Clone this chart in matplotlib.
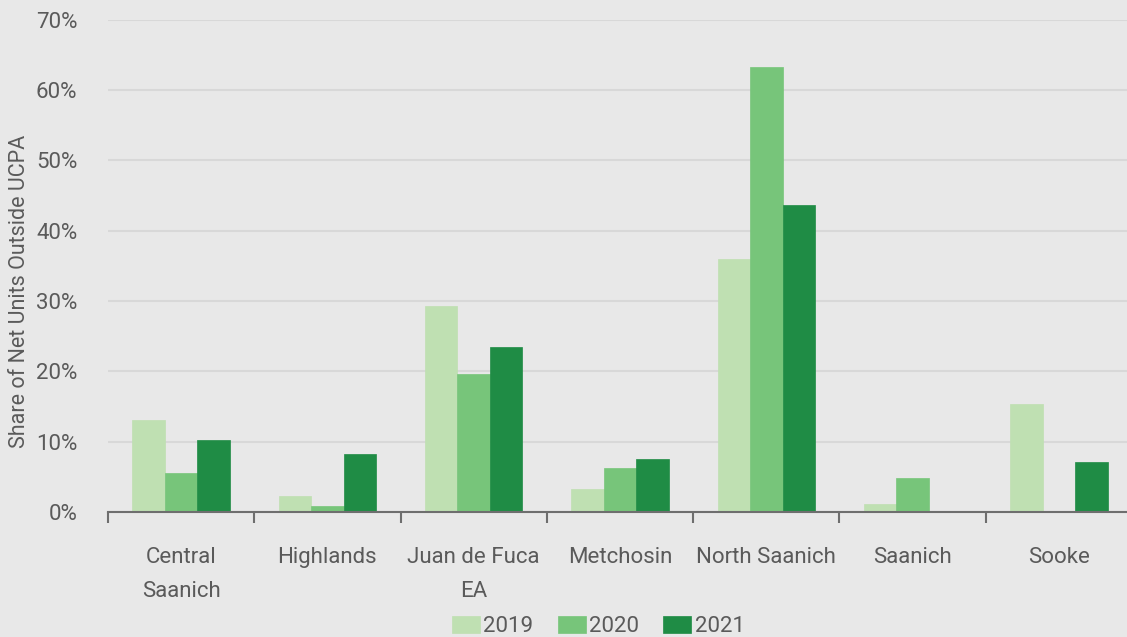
import numpy as np
import matplotlib.pyplot as plt
from matplotlib.ticker import FuncFormatter, FixedLocator

# dati
categorie = ["Central\nSaanich", "Highlands", "Juan de Fuca\nEA", "Metchosin",
             "North Saanich", "Saanich", "Sooke"]
anni = ["2019", "2020", "2021"]
v2019 = [13.1, 2.3, 29.3, 3.3, 35.9, 1.2, 15.3]
v2020 = [5.6, 0.85, 19.6, 6.25, 63.2, 4.8, 0.0]
v2021 = [10.2, 8.2, 23.4, 7.6, 43.7, 0.0, 7.05]

colori = ['#bfe0b2', '#77c57a', '#1f8c45']
sfondo = '#e8e8e8'
testo = '#5a5a5a'

plt.rcParams['font.family'] = ['Roboto', 'DejaVu Sans']

fig = plt.figure(figsize=(11.27, 6.37), dpi=100, facecolor=sfondo)
ax = fig.add_axes([108 / 1127, 125 / 637, 1024 / 1127, 492.5 / 637])
ax.set_facecolor(sfondo)

x = np.arange(len(categorie))
w = 0.222
for i, (serie, col) in enumerate(zip([v2019, v2020, v2021], colori)):
    ax.bar(x + (i - 1) * w, serie, width=w, color=col, label=anni[i],
           edgecolor=col, linewidth=0.5, zorder=3)

ax.set_xlim(-0.5, len(categorie) - 0.5)
ax.set_ylim(0, 70)
ax.set_yticks(np.arange(0, 71, 10))
ax.yaxis.set_major_formatter(FuncFormatter(lambda v, p: f"{v:.0f}%"))
ax.tick_params(axis='y', length=0, labelsize=16, labelcolor=testo, pad=22)
ax.grid(axis='y', color='#d8d8d8', linewidth=1.5, zorder=0)

# tacche ai confini delle categorie, etichette al centro
ax.xaxis.set_major_locator(FixedLocator(np.arange(-0.5, len(categorie), 1.0)))
ax.xaxis.set_major_formatter(FuncFormatter(lambda v, p: ""))
ax.xaxis.set_minor_locator(FixedLocator(x))
ax.set_xticklabels(categorie, minor=True)
ax.tick_params(axis='x', which='major', length=8, width=1.5, color='#6e6e6e')
ax.tick_params(axis='x', which='minor', length=0, labelsize=16,
               labelcolor=testo, pad=25)
for lab in ax.get_xticklabels(minor=True):
    lab.set_linespacing(1.85)

for s in ['top', 'right', 'left']:
    ax.spines[s].set_visible(False)
ax.spines['bottom'].set_color('#6e6e6e')
ax.spines['bottom'].set_linewidth(1.5)
ax.spines['bottom'].set_zorder(4)

ax.set_ylabel("Share of Net Units Outside UCPA", fontsize=15.5, color=testo)
ax.yaxis.set_label_coords(-0.076, 0.447)

fig.legend(loc='lower center', bbox_to_anchor=(0.531, -0.032), ncol=3,
           frameon=False, fontsize=16, handlelength=1.25, handleheight=0.75,
           handletextpad=0.15, columnspacing=1.1, labelcolor=testo)

fig.savefig("out.png", dpi=100, facecolor=sfondo)
